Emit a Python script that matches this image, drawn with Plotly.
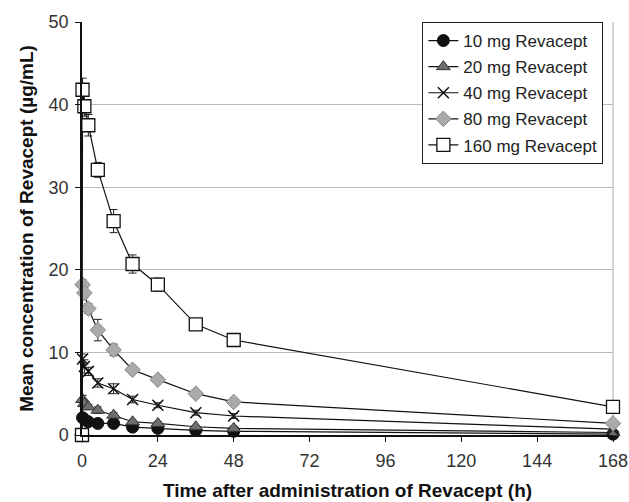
import plotly.graph_objects as go

times = [0, 0.17, 0.75, 2, 5, 10, 16, 24, 36, 48, 168]

c10 = [0, 2.1, 1.9, 1.6, 1.4, 1.4, 0.95, 0.8, 0.55, 0.45, 0.1]
c20 = [0, 4.3, 3.8, 3.4, 3.0, 2.4, 1.6, 1.4, 1.0, 0.8, 0.3]
c40 = [0, 9.2, 8.3, 7.7, 6.3, 5.6, 4.3, 3.6, 2.7, 2.3, 0.7]
c80 = [0, 18.2, 17.2, 15.3, 12.7, 10.3, 7.9, 6.7, 5.0, 4.0, 1.4]
c160 = [0, 41.8, 39.8, 37.5, 32.1, 25.9, 20.7, 18.2, 13.4, 11.5, 3.4]

e10 = [0, 0.2, 0.2, 0.1, 0.1, 0.1, 0.1, 0.1, 0.05, 0.05, 0.02]
e20 = [0, 0.5, 0.4, 0.3, 0.4, 0.3, 0.2, 0.2, 0.1, 0.1, 0.05]
e40 = [0, 0.6, 0.8, 0.5, 0.5, 0.6, 0.4, 0.3, 0.3, 0.3, 0.1]
e80 = [0, 0.6, 0.6, 0.6, 1.3, 0.7, 0.4, 0.3, 0.3, 0.2, 0.1]
e160 = [0, 1.4, 1.2, 1.3, 0.9, 1.4, 1.1, 0.8, 0.4, 0.7, 0.2]

names = ["10 mg Revacept", "20 mg Revacept", "40 mg Revacept",
         "80 mg Revacept", "160 mg Revacept"]
series = [c10, c20, c40, c80, c160]
errors = [e10, e20, e40, e80, e160]
markers = [
    dict(symbol="circle", size=12, color="#111111", line=dict(color="#111111", width=1)),
    dict(symbol="triangle-up", size=12, color="#6e6e6e", line=dict(color="#333333", width=1)),
    dict(symbol="x-thin", size=11, color="#111111", line=dict(color="#111111", width=1.5)),
    dict(symbol="diamond", size=12, color="#aaaaaa", line=dict(color="#8a8a8a", width=1)),
    dict(symbol="square", size=13, color="white", line=dict(color="#111111", width=1.3)),
]

fig = go.Figure()
for i, (n, y, e, m) in enumerate(zip(names, series, errors, markers)):
    fig.add_trace(go.Scatter(
        x=times, y=y, name=n, mode="lines+markers", legendgroup=f"g{i}",
        line=dict(color="#111111", width=1.2),
        marker=m,
        error_y=dict(type="data", array=e, visible=True, color="#222222",
                     thickness=1, width=4),
        cliponaxis=False,
    ))

font = "Arial, Liberation Sans, sans-serif"
fig.update_layout(
    width=629, height=502,
    margin=dict(l=82, r=16, t=22, b=67),
    paper_bgcolor="white", plot_bgcolor="white",
    font=dict(family=font, size=18, color="#333333"),
    showlegend=True,
    legend=dict(x=0.641, y=1.0, xanchor="left", yanchor="top",
                bgcolor="white", bordercolor="#222222", borderwidth=1,
                font=dict(size=17, color="#222222"),
                tracegroupgap=1, itemwidth=30),
    xaxis=dict(range=[0, 168], tickvals=[0, 24, 48, 72, 96, 120, 144, 168],
               showgrid=False, zeroline=False, automargin=False,
               showline=True, linecolor="#111111", linewidth=1.5,
               ticks="outside", ticklen=5, tickcolor="#111111",
               ticklabelstandoff=4,
               tickfont=dict(size=18, color="#333333"),
               title=dict(text="<b>Time after administration of Revacept (h)</b>",
                          font=dict(size=19, color="#111111"), standoff=13)),
    yaxis=dict(range=[0, 50], dtick=10, automargin=False,
               showgrid=True, gridcolor="#bbbbbb", gridwidth=1, zeroline=False,
               showline=True, linecolor="#111111", linewidth=1.5,
               ticks="outside", ticklen=5, tickcolor="#111111",
               ticklabelstandoff=3,
               tickfont=dict(size=18, color="#333333"),
               title=dict(text="<b>Mean concentration of Revacept (µg/mL)</b>",
                          font=dict(size=19, color="#111111"), standoff=10)),
    shapes=[dict(type="line", xref="paper", yref="paper", x0=1, x1=1, y0=0, y1=1,
                 line=dict(color="#aaaaaa", width=1), layer="below")],
)

fig.write_html("out.html")
